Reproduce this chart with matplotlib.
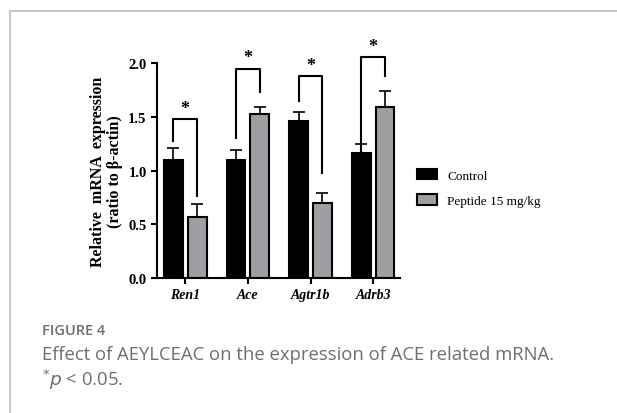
import numpy as np
import matplotlib.pyplot as plt
from matplotlib.lines import Line2D

genes = ['Ren1', 'Ace', 'Agtr1b', 'Adrb3']
control = [1.10, 1.10, 1.46, 1.16]
control_err = [0.11, 0.09, 0.09, 0.09]
peptide = [0.57, 1.53, 0.70, 1.59]
peptide_err = [0.12, 0.06, 0.09, 0.15]
# significance brackets: top, left leg end, right leg end
br_top = [1.48, 1.95, 1.88, 2.06]
br_left = [1.28, 1.30, 1.65, 1.18]
br_right = [0.76, 1.73, 0.98, 1.88]

fig = plt.figure(figsize=(6.17, 4.14), dpi=100)
ax = fig.add_axes([0.2545, 0.326, 0.394, 0.519])

x = np.arange(len(genes))
w = 0.30
off = 0.19
ax.bar(x - off, control, w, color='black', edgecolor='black', linewidth=1.5, label='Control', zorder=2)
ax.bar(x + off, peptide, w, color='#9e9fa3', edgecolor='black', linewidth=1.5, label='Peptide 15 mg/kg', zorder=2)
ax.errorbar(x - off, control, yerr=[np.zeros(4), control_err], fmt='none', ecolor='black',
            elinewidth=1.2, capsize=4, capthick=1.2, zorder=1)
ax.errorbar(x + off, peptide, yerr=[np.zeros(4), peptide_err], fmt='none', ecolor='black',
            elinewidth=1.2, capsize=4, capthick=1.2, zorder=1)

for i in range(len(genes)):
    ax.plot([x[i] - off, x[i] - off, x[i] + off, x[i] + off],
            [br_left[i], br_top[i], br_top[i], br_right[i]],
            color='black', lw=1.5, clip_on=False)
    ax.text(x[i], br_top[i] + 0.02, '*', ha='center', va='bottom', fontsize=13,
            fontweight='bold', family='Liberation Serif', clip_on=False)

ax.set_xlim(-0.45, 3.43)
ax.set_ylim(0, 2.0)
ax.set_yticks([0, 0.5, 1.0, 1.5, 2.0])
ax.set_yticklabels(['0.0', '0.5', '1.0', '1.5', '2.0'], family='Liberation Serif',
                   fontweight='bold', fontsize=10.5)
ax.set_xticks(x)
ax.set_xticklabels(genes, family='Liberation Serif', fontweight='bold', fontstyle='italic',
                   fontsize=10)
ax.tick_params(axis='both', width=1.5, length=4.5, direction='out', pad=3)
for s in ['top', 'right']:
    ax.spines[s].set_visible(False)
for s in ['left', 'bottom']:
    ax.spines[s].set_linewidth(1.5)
ax.set_ylabel('Relative  mRNA  expression\n(ratio to β-actin)', family='Liberation Serif',
              fontweight='bold', fontsize=11.5, linespacing=1.05, labelpad=4)

ax.legend(loc='upper left', bbox_to_anchor=(1.02, 0.565), frameon=False,
          prop={'family': 'Liberation Serif', 'size': 9.5}, handlelength=1.5,
          handleheight=0.9, labelspacing=0.95)

# frame lines
fig.add_artist(Line2D([10 / 617, 1], [1 - 12 / 414, 1 - 12 / 414], color='#c8c8c8', lw=1.5))
fig.add_artist(Line2D([10 / 617, 10 / 617], [0, 1 - 12 / 414], color='#c8c8c8', lw=1.5))

fig.text(42 / 617, 1 - 331 / 414, 'FIGURE 4', family='Open Sans', fontweight='semibold',
         fontsize=10.5, color='#6e6e6e', va='center')
fig.text(42 / 617, 1 - 355 / 414, 'Effect of AEYLCEAC on the expression of ACE related mRNA.',
         family='Open Sans', fontsize=13.3, color='#6e6e6e', va='center')
fig.text(42 / 617, 1 - 380 / 414, '$^{*}\\it{p}$ < 0.05.', family='Open Sans', fontsize=13.3,
         color='#6e6e6e', va='center')

fig.savefig('out.png', dpi=100)
